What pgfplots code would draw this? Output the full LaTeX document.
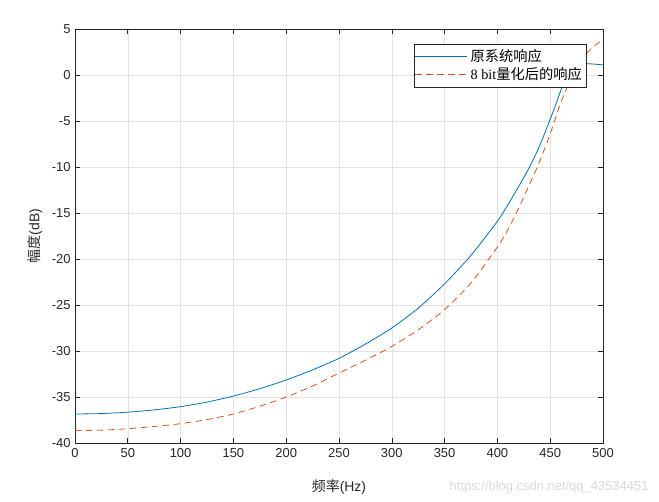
\documentclass[border=0pt]{standalone}
\usepackage{fontspec}
\setmainfont{Liberation Sans}
\newfontfamily\cjk{Noto Sans CJK SC}
\newfontfamily\serif{Liberation Serif}
\usepackage{pgfplots}
\pgfplotsset{compat=1.18}
\definecolor{mblue}{rgb}{0,0.447,0.741}
\definecolor{morange}{rgb}{0.85,0.325,0.098}
\definecolor{axgray}{gray}{0.15}

\begin{document}
\begin{tikzpicture}
\begin{axis}[
    scale only axis,
    width=528bp, height=414bp,
    xmin=0, xmax=500, ymin=-40, ymax=5,
    xtick={0,50,...,500},
    ytick={-40,-35,...,5},
    grid=major,
    grid style={gray!22, line width=0.5bp},
    axis line style={axgray, line width=0.6bp},
    tick style={axgray, line width=0.6bp},
    tick align=inside,
    major tick length=5bp,
    /pgf/number format/assume math mode=true,
    ticklabel style={font=\fontsize{13}{15}\selectfont, text=axgray},
    xticklabel style={yshift=-2bp},
    yticklabel style={xshift=-1bp},
    xlabel={{\cjk 频率}(Hz)},
    ylabel={{\cjk 幅度}(dB)},
    label style={font=\fontsize{14}{16}\selectfont, text=axgray},
    xlabel style={at={(axis description cs:0.5,-0.106)}, anchor=center},
    ylabel style={at={(axis description cs:-0.076,0.5)}, anchor=center},
    legend cell align=left,
    legend style={at={(axis description cs:0.968,0.964)}, anchor=north east,
        draw=axgray, line width=0.6bp, fill=white,
        font=\fontsize{14.3}{16}\selectfont, inner xsep=1bp, inner ysep=3.5bp,
        row sep=0.5bp, nodes={inner xsep=3bp}},
    legend image code/.code={\draw[#1] (-3bp,0bp) -- (49bp,0bp);},
]

% original system response
\addplot[mblue, line width=0.8bp, smooth, tension=0.4] coordinates {
    (0,-36.85) (25,-36.8) (50,-36.65) (75,-36.4) (100,-36.05) (125,-35.55)
    (150,-34.9) (175,-34.1) (200,-33.15) (225,-32.05) (250,-30.8) (275,-29.25)
    (300,-27.5) (325,-25.35) (350,-22.7) (375,-19.6) (400,-15.9) (410,-14.1)
    (420,-12.15) (430,-10.1) (440,-7.7) (450,-4.8) (455,-3.3) (460,-1.7)
    (465,-0.3) (470,0.6) (475,1.0) (480,1.18) (485,1.22) (490,1.2)
    (495,1.15) (500,1.1)
};
\addlegendentry{\cjk 原系统响应}

% 8 bit quantized response
\addplot[morange, line width=0.8bp, dash pattern=on 6.5bp off 4.5bp, smooth, tension=0.4] coordinates {
    (0,-38.65) (25,-38.6) (50,-38.45) (75,-38.2) (100,-37.9) (125,-37.45)
    (150,-36.85) (175,-36.0) (200,-35.0) (225,-33.8) (250,-32.4) (275,-31.0)
    (300,-29.5) (325,-27.7) (350,-25.5) (375,-22.6) (400,-18.7) (410,-16.8)
    (420,-14.5) (430,-12.0) (440,-9.4) (450,-6.4) (455,-4.7) (460,-3.0)
    (465,-1.6) (470,-0.2) (475,0.9) (480,1.7) (485,2.4) (490,3.0)
    (495,3.45) (500,3.8)
};
\addlegendentry{{\serif 8 bit}{\cjk 量化后的响应}}

\end{axis}
\node[anchor=east, text=gray!30, font=\fontsize{13}{15}\selectfont]
    at ([shift={(49bp,-44bp)}]current axis.south east) {https://blog.csdn.net/qq\_43534451};
\pgfresetboundingbox
\path[use as bounding box] ([shift={(-75bp,-59bp)}]current axis.south west)
    rectangle ([shift={(56bp,29bp)}]current axis.north east);
\end{tikzpicture}
\end{document}
